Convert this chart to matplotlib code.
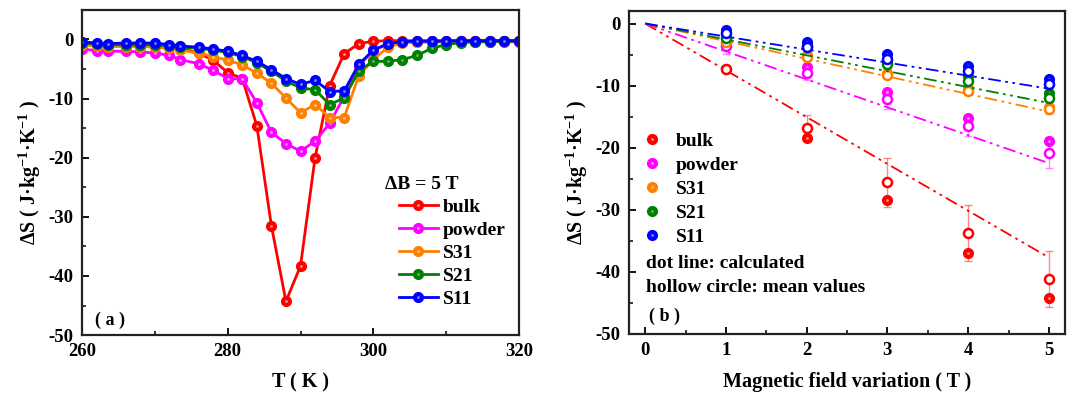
import numpy as np
import matplotlib
matplotlib.use('Agg')
import matplotlib.pyplot as plt
from matplotlib.legend_handler import HandlerTuple

plt.rcParams['font.family'] = 'Liberation Serif'
plt.rcParams['font.weight'] = 'bold'
plt.rcParams['axes.labelweight'] = 'bold'
plt.rcParams['mathtext.fontset'] = 'custom'
plt.rcParams['mathtext.rm'] = 'Liberation Serif:bold'
plt.rcParams['mathtext.bf'] = 'Liberation Serif:bold'
plt.rcParams['mathtext.it'] = 'Liberation Serif:bold:italic'
plt.rcParams['axes.unicode_minus'] = False

# (a) entropy change vs temperature, dB = 5 T
T = [260, 262, 263.5, 266, 268, 270, 272, 273.5, 276, 278, 280, 282, 284, 286, 288, 290,
     292, 294, 296, 298, 300, 302, 304, 306, 308, 310, 312, 314, 316, 318, 320]
bulk = [-0.8, -1.0, -1.0, -1.0, -1.0, -1.0, -1.2, -1.5, -2.3, -3.5, -5.6, -6.6, -14.6, -31.5, -44.3, -38.3,
        -20.0, -7.8, -2.4, -0.7, -0.3, -0.2, -0.2, -0.2, -0.2, -0.2, -0.2, -0.2, -0.2, -0.2, -0.2]
powder = [-1.6, -1.9, -2.0, -2.0, -2.1, -2.3, -2.7, -3.4, -4.1, -5.2, -6.6, -6.7, -10.7, -15.7, -17.6, -18.9,
          -17.2, -14.2, -9.6, -4.5, -1.8, -0.8, -0.5, -0.4, -0.4, -0.4, -0.4, -0.4, -0.4, -0.4, -0.4]
s31 = [-0.9, -1.1, -1.2, -1.2, -1.2, -1.3, -1.5, -1.8, -2.3, -2.9, -3.5, -4.3, -5.7, -7.4, -9.9, -12.4,
       -11.0, -13.2, -13.2, -6.1, -3.4, -1.3, -0.6, -0.5, -0.4, -0.4, -0.3, -0.3, -0.3, -0.3, -0.3]
s21 = [-0.6, -0.8, -0.9, -0.9, -0.9, -0.9, -1.1, -1.3, -1.5, -1.8, -2.2, -2.9, -3.9, -5.4, -7.0, -8.2,
       -8.5, -11.0, -9.9, -5.3, -3.7, -3.7, -3.4, -2.7, -1.5, -0.85, -0.55, -0.4, -0.35, -0.3, -0.3]
s11 = [-0.4, -0.6, -0.7, -0.6, -0.6, -0.6, -0.85, -1.1, -1.3, -1.6, -2.0, -2.7, -3.7, -5.1, -6.6, -7.6,
       -6.9, -8.8, -8.7, -4.2, -1.8, -0.7, -0.35, -0.3, -0.3, -0.25, -0.2, -0.2, -0.2, -0.2, -0.2]

# (b) entropy change vs field variation
B = [1, 2, 3, 4, 5]
calc_B = [0, 5]
calc_bulk = [0, -37.7]
calc_powder = [0, -22.5]
calc_s31 = [0, -14.2]
calc_s21 = [0, -12.8]
calc_s11 = [0, -10.5]
meas_bulk = [-7.4, -18.5, -28.5, -37.0, -44.3]
mean_bulk = [-7.4, -16.9, -25.6, -33.8, -41.1]
err_bulk = [0.3, 2.1, 4.0, 4.5, 4.5]
meas_powder = [-3.0, -7.0, -11.0, -15.3, -18.9]
mean_powder = [-3.7, -8.0, -12.2, -16.5, -20.8]
err_powder = [1.2, 1.1, 1.6, 1.7, 2.5]
meas_s31 = [-2.6, -5.0, -7.9, -10.4, -13.4]
mean_s31 = [-3.0, -5.4, -8.3, -10.8, -13.8]
err_s31 = [0.3, 0.4, 0.5, 0.6, 0.8]
meas_s21 = [-1.9, -3.1, -6.0, -8.5, -11.2]
mean_s21 = [-2.3, -3.6, -6.6, -9.2, -12.0]
err_s21 = [0.3, 0.4, 0.5, 0.6, 0.7]
meas_s11 = [-1.0, -2.9, -4.9, -6.8, -9.0]
mean_s11 = [-1.6, -3.8, -5.7, -7.7, -9.8]
err_s11 = [0.3, 0.4, 0.5, 0.5, 0.5]

names = ['bulk', 'powder', 'S31', 'S21', 'S11']
colors = ['#ff0000', '#ff00ff', '#ff8000', '#008000', '#0000ff']
hilite = ['#ff9090', '#ffa0ff', '#ffc080', '#70b070', '#8080ff']

fig = plt.figure(figsize=(10.67, 3.97), dpi=100)
ax1 = fig.add_axes([0.0769, 0.156, 0.4095, 0.819])
ax2 = fig.add_axes([0.5895, 0.159, 0.4087, 0.813])

ylab = r'ΔS ( J·kg$^{-1}$·K$^{-1}$ )'

# ---- panel a
handles = []
for y, c, h, n in zip([bulk, powder, s31, s21, s11], colors, hilite, names):
    l, = ax1.plot(T, y, '-o', color=c, lw=2, ms=7, mec=c, mfc=c, label=n)
    d, = ax1.plot(T, y, 'o', color=h, ms=2.0, mew=0)
    handles.append((l, d))
ax1.legend(handles, names, handler_map={tuple: HandlerTuple(ndivide=1)},
           loc='lower left', bbox_to_anchor=(0.685, 0.03), frameon=False,
           fontsize=14, handlelength=2.0, handletextpad=0.25, labelspacing=0.28)
ax1.text(0.693, 0.462, 'ΔB = 5 T', transform=ax1.transAxes, fontsize=14, va='center')
ax1.set_xlim(260, 320)
ax1.set_ylim(-50, 5)
ax1.set_xticks([260, 280, 300, 320])
ax1.set_xticks([270, 290, 310], minor=True)
ax1.set_yticks([0, -10, -20, -30, -40, -50])
ax1.set_yticks([-5, -15, -25, -35, -45], minor=True)
ax1.set_xlabel('T ( K )', fontsize=14.5, labelpad=9)
ax1.set_ylabel(ylab, fontsize=14.5, labelpad=4)
ax1.text(0.03, 0.03, '( a )', transform=ax1.transAxes, fontsize=13)

# ---- panel b
dash = (0, (7, 2.5, 1.5, 2.5, 1.5, 2.5))
sets = [(calc_bulk, meas_bulk, mean_bulk, err_bulk),
        (calc_powder, meas_powder, mean_powder, err_powder),
        (calc_s31, meas_s31, mean_s31, err_s31),
        (calc_s21, meas_s21, mean_s21, err_s21),
        (calc_s11, meas_s11, mean_s11, err_s11)]
handles2 = []
for (cl, ms_, mn, er), c, h, n in zip(sets, colors, hilite, names):
    ax2.plot(calc_B, cl, color=c, lw=1.3, linestyle=dash)
    ax2.errorbar(B, mn, yerr=er, fmt='none', ecolor=c, alpha=0.45, capsize=3, elinewidth=1)
    l, = ax2.plot(B, ms_, 'o', color=c, ms=7, mec=c)
    d, = ax2.plot(B, ms_, 'o', color=h, ms=2.0, mew=0)
    ax2.plot(B, mn, 'o', mfc='white', mec=c, mew=1.8, ms=6.5)
    handles2.append((l, d))
ax2.legend(handles2, names, handler_map={tuple: HandlerTuple(ndivide=1)},
           loc='upper left', bbox_to_anchor=(-0.01, 0.68), frameon=False, fontsize=14,
           handlelength=1.0, handletextpad=0.75, labelspacing=0.33)
ax2.text(0.04, 0.205, 'dot line: calculated', transform=ax2.transAxes, fontsize=14)
ax2.text(0.04, 0.13, 'hollow circle: mean values', transform=ax2.transAxes, fontsize=14)
ax2.text(0.045, 0.04, '( b )', transform=ax2.transAxes, fontsize=13)
ax2.set_xlim(-0.2, 5.2)
ax2.set_ylim(-50, 2)
ax2.set_xticks([0, 1, 2, 3, 4, 5])
ax2.set_xticks([0.5, 1.5, 2.5, 3.5, 4.5], minor=True)
ax2.set_yticks([0, -10, -20, -30, -40, -50])
ax2.set_yticks([-5, -15, -25, -35, -45], minor=True)
ax2.set_xlabel('Magnetic field variation ( T )', fontsize=14.5, labelpad=9)
ax2.set_ylabel(ylab, fontsize=14.5, labelpad=4)

for ax in (ax1, ax2):
    for s in ax.spines.values():
        s.set_linewidth(1.6)
        s.set_color('#222222')
    ax.tick_params(direction='in', which='major', length=5, width=1.3, labelsize=13.5, pad=6)
    ax.tick_params(direction='in', which='minor', length=3, width=1.1)
    for lab in ax.get_xticklabels() + ax.get_yticklabels():
        lab.set_fontweight('bold')

fig.savefig('out.png', dpi=100)
